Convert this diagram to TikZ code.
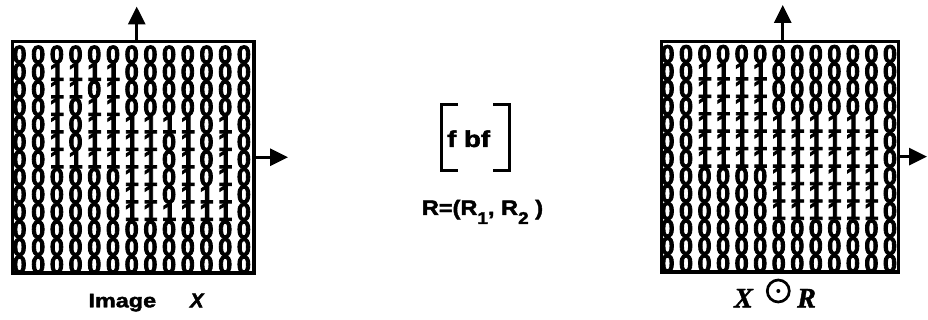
\documentclass[tikz,border=0pt]{standalone}
\usepackage{fontspec}
\usepackage{graphicx}
\setmainfont{Liberation Sans}[BoldFeatures={FakeBold=2},BoldItalicFeatures={FakeBold=2.5}]
\newfontfamily\digfont{Liberation Sans}[BoldFeatures={FakeBold=3.5}]
\newfontfamily\serifbi{Liberation Serif}[BoldItalicFeatures={FakeBold=1.5}]
\usetikzlibrary{arrows.meta}
\begin{document}
\begin{tikzpicture}[x=1pt,y=-1pt,
  digit/.style={inner sep=0pt, font=\digfont\bfseries\fontsize{25.2}{25.2}\selectfont},
  frame/.style={draw, line width=3.2pt, inner sep=0pt},
  arr/.style={line width=3pt, -{Triangle[width=17pt,length=18pt]}},
  brk/.style={line width=3.5pt},
  lbl/.style={inner sep=0pt, anchor=base west},
]
\useasboundingbox (0,0) rectangle (928,320);
\def\Xrows{{0,0,0,0,0,0,0,0,0,0,0,0,0},{0,0,1,1,1,1,0,0,0,0,0,0,0},{0,0,1,1,0,1,0,0,0,0,0,0,0},{0,0,1,0,1,1,0,0,0,0,0,0,0},{0,0,1,0,1,1,1,1,1,1,0,1,0},{0,0,1,0,1,1,1,1,0,1,0,1,0},{0,0,1,1,1,1,1,1,0,1,0,1,0},{0,0,0,0,0,0,1,1,0,1,0,1,0},{0,0,0,0,0,0,1,1,0,1,1,1,0},{0,0,0,0,0,0,1,1,1,1,1,1,0},{0,0,0,0,0,0,0,0,0,0,0,0,0},{0,0,0,0,0,0,0,0,0,0,0,0,0},{0,0,0,0,0,0,0,0,0,0,0,0,0}}
\def\Yrows{{0,0,0,0,0,0,0,0,0,0,0,0,0},{0,0,1,1,1,1,0,0,0,0,0,0,0},{0,0,1,1,1,1,0,0,0,0,0,0,0},{0,0,1,1,1,1,0,0,0,0,0,0,0},{0,0,1,1,1,1,1,1,1,1,1,1,0},{0,0,1,1,1,1,1,1,1,1,1,1,0},{0,0,1,1,1,1,1,1,1,1,1,1,0},{0,0,0,0,0,0,1,1,1,1,1,1,0},{0,0,0,0,0,0,1,1,1,1,1,1,0},{0,0,0,0,0,0,1,1,1,1,1,1,0},{0,0,0,0,0,0,0,0,0,0,0,0,0},{0,0,0,0,0,0,0,0,0,0,0,0,0},{0,0,0,0,0,0,0,0,0,0,0,0,0}}
% left grid digits
\foreach \row [count=\r] in \Xrows {
  \foreach \b [count=\c] in \row {
    \node[digit] (L-\r-\c) at ({19.5+18.7*(\c-1)},{54.5+17.5*(\r-1)}) {\b};
  }
}
% right grid digits
\foreach \row [count=\r] in \Yrows {
  \foreach \b [count=\c] in \row {
    \node[digit] (R-\r-\c) at ({667.5+18.54*(\c-1)},{54+17.45*(\r-1)}) {\b};
  }
}
% frames
\node[frame, minimum width=241.3pt, minimum height=231.5pt] (LF) at (133.35,157.25) {};
\node[frame, minimum width=236.6pt, minimum height=230.7pt] (RF) at (780,156.65) {};
% axes arrows
\coordinate (LupB) at (136.7,41.5);
\coordinate (LupT) at (136.7,6.5);
\coordinate (LrT) at (288,157.25);
\draw[arr] (LupB) -- (LupT);
\draw[arr] (LF.east) -- (LrT);
\coordinate (RupB) at (782.7,41.3);
\coordinate (RupT) at (782.7,5);
\coordinate (RrT) at (927,156.65);
\draw[arr] (RupB) -- (RupT);
\draw[arr] (RF.east) -- (RrT);
% structuring element
\draw[brk] (458,104.5) -- (441.3,104.5) -- (441.3,170.5) -- (458,170.5);
\draw[brk] (493,104.5) -- (509.7,104.5) -- (509.7,170.5) -- (493,170.5);
\node[lbl, font=\bfseries\fontsize{23}{23}\selectfont] (fbf) at (447,147) {\scalebox{1.2}[1]{f bf}};
\node[lbl, font=\bfseries\fontsize{21}{21}\selectfont] (Rdef) at (421.7,215) {\scalebox{1.12}[1]{R=(R\raisebox{-9pt}{\fontsize{17}{17}\selectfont 1}, R\raisebox{-9pt}{\fontsize{17}{17}\selectfont 2} )}};
% labels
\node[lbl, font=\bfseries\fontsize{19.5}{19.5}\selectfont] (img) at (88.3,307.3) {\scalebox{1.2}[1]{Image}};
\node[lbl, font=\bfseries\itshape\fontsize{20}{20}\selectfont] (imgX) at (190,307.3) {X};
\node[lbl, font=\serifbi\bfseries\itshape\fontsize{28}{28}\selectfont] (rX) at (734,307.3) {X};
\node[draw, circle, line width=2.7pt, minimum size=22pt, inner sep=0pt] (od) at (778.3,291) {};
\fill (od.center) circle (2pt);
\node[lbl, font=\serifbi\bfseries\itshape\fontsize{28}{28}\selectfont] (rR) at (797,307.3) {R};
\end{tikzpicture}
\end{document}
